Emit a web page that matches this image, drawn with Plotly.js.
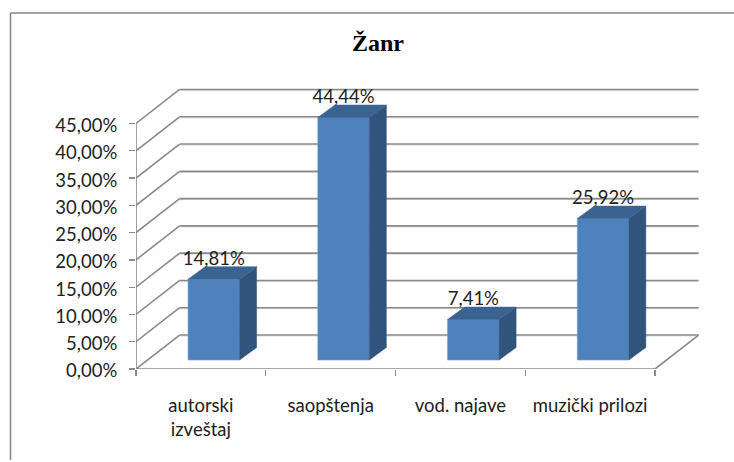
<!DOCTYPE html>
<html><head><meta charset="utf-8">
<script src="https://cdn.plot.ly/plotly-3.0.1.min.js"></script>
<style>html,body{margin:0;padding:0;background:#fff}</style></head>
<body><div id="chart" style="width:734px;height:462px"></div>
<script>
const categories = ['autorski<br>izveštaj', 'saopštenja', 'vod. najave', 'muzički prilozi'];
const values = [14.81, 44.44, 7.41, 25.92];
const yTicks = [0, 5, 10, 15, 20, 25, 30, 35, 40, 45];
const yTickLabels = ['0,00%', '5,00%', '10,00%', '15,00%', '20,00%', '25,00%', '30,00%', '35,00%', '40,00%', '45,00%'];
const positions = [0, 1, 2, 3];

// 3D projection constants, in axis units
const wallDx = 0.336, wallDy = 6.23;
const barShift = 0.1, barBase = 1.65, barWidth = 0.397, barDx = 0.131, barDy = 2.29;
const xStart = -0.5, xEnd = 3.5;

const W = 734, H = 462, M = {l: 136, r: 34, t: 85, b: 93};
const fmt = v => v.toFixed(2).replace('.', ',') + '%';
const gridColor = '#8a8a8a';
const seg = (x0, y0, x1, y1, c, w) => ({type: 'line', xref: 'x', yref: 'y', layer: 'below',
  x0, y0, x1, y1, line: {color: c || gridColor, width: w || 1.6}});

const shapes = [];
yTicks.forEach(t => {
  shapes.push(seg(xStart + wallDx, t + wallDy - 0.18, xEnd + wallDx, t + wallDy - 0.18, '#dcdcdc', 1));
  shapes.push(seg(xStart + wallDx, t + wallDy, xEnd + wallDx, t + wallDy));
  shapes.push(seg(xStart, t, xStart + wallDx, t + wallDy));
});
shapes.push(seg(xStart, 0, xEnd, 0));
shapes.push(seg(xEnd, 0, xEnd + wallDx, wallDy));
shapes.push(seg(xStart, 0, xStart, yTicks[yTicks.length - 1]));
// outer chart frame (top and left edges only reach the picture border)
const px = v => (v - M.l) / (W - M.l - M.r), py = v => 1 - (v - M.t) / (H - M.t - M.b);
shapes.push({type: 'line', xref: 'paper', yref: 'paper', x0: px(10.5), x1: px(734), y0: py(13), y1: py(13), line: {color: '#868686', width: 1.5}});
shapes.push({type: 'line', xref: 'paper', yref: 'paper', x0: px(10.5), x1: px(10.5), y0: py(13), y1: py(460), line: {color: '#868686', width: 1.5}});

const centers = positions.map(p => p + barShift);
const traces = [{
  type: 'bar', x: centers, y: values, base: values.map(() => barBase), width: barWidth,
  marker: {color: '#4f81bd', line: {color: '#6f9ad0', width: 0.6}}, hoverinfo: 'skip', showlegend: false
}];
const face = (xs, ys, color) => ({type: 'scatter', mode: 'lines', x: xs, y: ys, fill: 'toself', fillcolor: color,
  line: {color: color, width: 0.5}, hoverinfo: 'skip', showlegend: false});
centers.forEach((c, i) => {
  const l = c - barWidth / 2, r = c + barWidth / 2, top = values[i] + barBase;
  traces.push(face([r, r + barDx, r + barDx, r, r], [barBase, barBase + barDy, top + barDy, top, barBase], '#31547c'));
  traces.push(face([l, r, r + barDx, l + barDx, l], [top, top, top + barDy, top + barDy, top], '#3b6392'));
});
traces.push({
  type: 'scatter', mode: 'text', x: centers, y: values.map(v => v + barBase + barDy - 0.5),
  text: values.map(fmt), textposition: 'top center', cliponaxis: false,
  textfont: {family: 'Lato', size: 18.5, color: '#222'}, hoverinfo: 'skip', showlegend: false
});

Plotly.newPlot('chart', traces, {
  width: W, height: H, autosize: false, margin: {...M, pad: 0},
  paper_bgcolor: '#fff', plot_bgcolor: 'rgba(0,0,0,0)', showlegend: false,
  title: {text: '<b>Žanr</b>', x: 378 / W, xanchor: 'center', y: 1 - 43 / H, yanchor: 'middle',
    font: {family: 'Liberation Serif', size: 24, color: '#000'}},
  xaxis: {type: 'linear', range: [xStart, xStart + (W - M.l - M.r) / 129.75], tickmode: 'array', tickvals: positions, ticktext: categories,
    ticks: '', showgrid: false, zeroline: false, showline: false,
    minor: {tickmode: 'linear', tick0: xStart, dtick: 1, ticks: 'outside', ticklen: 6, tickwidth: 1.3, tickcolor: gridColor, showgrid: false},
    tickfont: {family: 'Lato', size: 18.5, color: '#222'}, ticklabelstandoff: 23},
  yaxis: {type: 'linear', range: [0, (H - M.t - M.b) / 5.456], tickmode: 'array', tickvals: yTicks, ticktext: yTickLabels,
    ticks: 'outside', ticklen: 6, tickwidth: 1.3, tickcolor: gridColor, showgrid: false, zeroline: false, showline: false,
    tickfont: {family: 'Lato', size: 18.5, color: '#222'}, ticklabelstandoff: 8, ticklabelshift: 2},
  shapes
}, {displayModeBar: false, staticPlot: true});
</script></body></html>
